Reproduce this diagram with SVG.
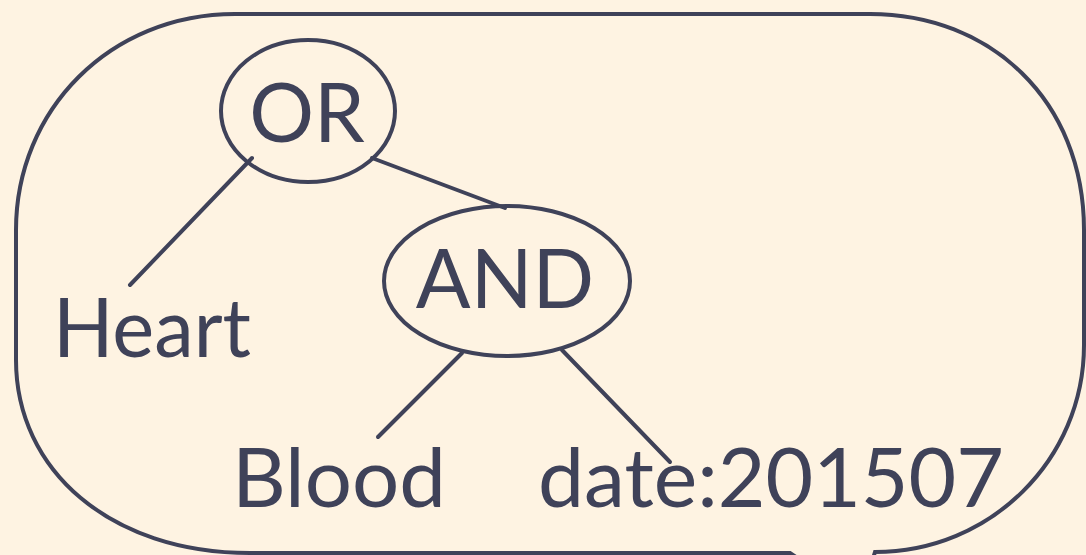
<svg xmlns="http://www.w3.org/2000/svg" width="1086" height="555" viewBox="0 0 1086 555">
<style>
.ln{fill:none;stroke:#3F4259;stroke-width:4;stroke-linecap:round}
.nd{fill:none;stroke:#3F4259;stroke-width:4}
.tx{font-family:Lato,"Noto Sans",sans-serif;font-size:81px;fill:#3F4259}
</style>
<rect width="1086" height="555" fill="#FEF3E2"/>
<g id="bubble">
<path class="nd" d="M875,552 L860,600 L790,553 L250,553 C110,553 16,470 16,360 L16,230 C16,110 110,14 235,14 L870,14 C990,14 1084,100 1084,230 L1084,345 C1084,460 990,552 875,552 Z"/>
</g>
<g id="connectors">
<line class="ln" x1="252" y1="158" x2="130" y2="285"/>
<line class="ln" x1="372" y1="158" x2="505" y2="208"/>
<line class="ln" x1="462" y1="353" x2="378" y2="437"/>
<line class="ln" x1="562" y1="350" x2="670" y2="462"/>
</g>
<g id="or">
<ellipse class="nd" cx="308" cy="111" rx="87" ry="71"/>
<text class="tx" x="307" y="142" text-anchor="middle">OR</text>
</g>
<g id="and">
<ellipse class="nd" cx="507" cy="281" rx="123" ry="75"/>
<text class="tx" x="505" y="308" text-anchor="middle">AND</text>
</g>
<g id="heart"><text class="tx" x="53" y="357" textLength="198" lengthAdjust="spacingAndGlyphs">Heart</text></g>
<g id="blood"><text class="tx" x="232" y="507" textLength="214" lengthAdjust="spacingAndGlyphs">Blood</text></g>
<g id="date"><text class="tx" x="538" y="507" textLength="466" lengthAdjust="spacingAndGlyphs">date:201507</text></g>
</svg>
